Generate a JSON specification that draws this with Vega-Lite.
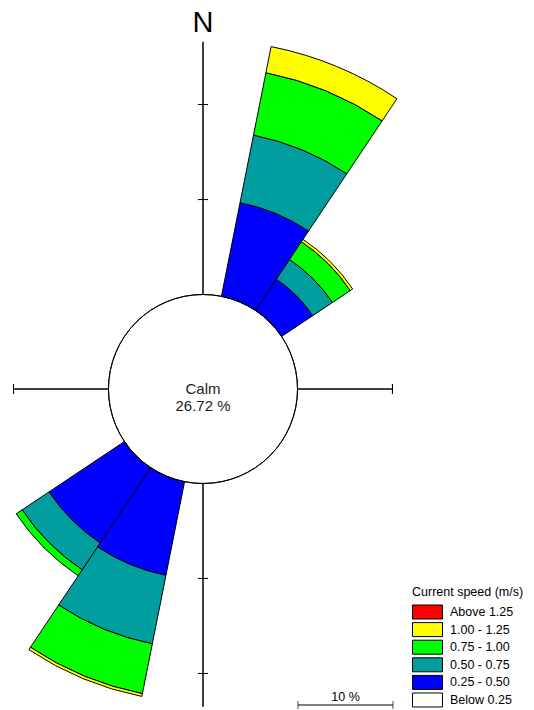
{
  "$schema": "https://vega.github.io/schema/vega-lite/v6.json",
  "width": 406,
  "height": 640,
  "autosize": "none",
  "padding": {"left": 0, "top": 69, "right": 128, "bottom": 0},
  "background": "white",
  "config": {"font": "Liberation Sans", "view": {"stroke": null}},
  "datasets": {
    "petals": [
      {"dir": "NNE", "from": 11.25, "to": 33.75, "lo": 0, "hi": 10.05, "speed": "0.25 - 0.50"},
      {"dir": "NNE", "from": 11.25, "to": 33.75, "lo": 10.05, "hi": 17.3, "speed": "0.50 - 0.75"},
      {"dir": "NNE", "from": 11.25, "to": 33.75, "lo": 17.3, "hi": 24.0, "speed": "0.75 - 1.00"},
      {"dir": "NNE", "from": 11.25, "to": 33.75, "lo": 24.0, "hi": 26.8, "speed": "1.00 - 1.25"},
      {"dir": "NE", "from": 33.75, "to": 56.25, "lo": 0, "hi": 3.95, "speed": "0.25 - 0.50"},
      {"dir": "NE", "from": 33.75, "to": 56.25, "lo": 3.95, "hi": 6.45, "speed": "0.50 - 0.75"},
      {"dir": "NE", "from": 33.75, "to": 56.25, "lo": 6.45, "hi": 8.7, "speed": "0.75 - 1.00"},
      {"dir": "NE", "from": 33.75, "to": 56.25, "lo": 8.7, "hi": 9.0, "speed": "1.00 - 1.25"},
      {"dir": "SSW", "from": 191.25, "to": 213.75, "lo": 0, "hi": 10.05, "speed": "0.25 - 0.50"},
      {"dir": "SSW", "from": 191.25, "to": 213.75, "lo": 10.05, "hi": 17.4, "speed": "0.50 - 0.75"},
      {"dir": "SSW", "from": 191.25, "to": 213.75, "lo": 17.4, "hi": 22.75, "speed": "0.75 - 1.00"},
      {"dir": "SSW", "from": 191.25, "to": 213.75, "lo": 22.75, "hi": 23.05, "speed": "1.00 - 1.25"},
      {"dir": "SW", "from": 213.75, "to": 236.25, "lo": 0, "hi": 9.55, "speed": "0.25 - 0.50"},
      {"dir": "SW", "from": 213.75, "to": 236.25, "lo": 9.55, "hi": 12.95, "speed": "0.50 - 0.75"},
      {"dir": "SW", "from": 213.75, "to": 236.25, "lo": 12.95, "hi": 13.7, "speed": "0.75 - 1.00"}
    ],
    "axes": [
      {"dir": 0, "len": 26.6},
      {"dir": 90, "len": 10},
      {"dir": 180, "len": 23.5},
      {"dir": 270, "len": 10}
    ],
    "ticks": [
      {"dir": 0, "r": 0}, {"dir": 90, "r": 0}, {"dir": 180, "r": 0}, {"dir": 270, "r": 0},
      {"dir": 0, "r": 10}, {"dir": 90, "r": 10}, {"dir": 180, "r": 10}, {"dir": 270, "r": 10}
    ],
    "ticks20": [
      {"dir": 0, "r": 20}, {"dir": 180, "r": 20}
    ],
    "calm": [{"label": "Calm\n26.72 %", "pct": 26.72}],
    "north": [{"label": "N"}],
    "scalebar": [{"from": 0, "to": 10, "label": "10 %"}]
  },
  "layer": [
    {
      "data": {"name": "petals"},
      "mark": {"type": "arc", "stroke": "black", "strokeWidth": 1},
      "encoding": {
        "theta": {"field": "from", "type": "quantitative", "stack": null, "scale": {"type": "linear", "zero": false, "nice": false, "domain": [0, 360], "range": [0, 6.283185307179586]}},
        "theta2": {"field": "to"},
        "radius": {"field": "hi", "type": "quantitative", "scale": {"type": "linear", "zero": false, "nice": false, "domain": [0, 30], "range": [94.5, 379.5]}},
        "radius2": {"field": "lo"},
        "color": {
          "field": "speed", "type": "nominal",
          "scale": {
            "domain": ["Above 1.25", "1.00 - 1.25", "0.75 - 1.00", "0.50 - 0.75", "0.25 - 0.50", "Below 0.25"],
            "range": ["#FF0000", "#FFFF00", "#00FF00", "#009E9E", "#0000FF", "#FFFFFF"]
          },
          "legend": {
            "orient": "none", "legendX": 412, "legendY": 517,
            "title": "Current speed (m/s)", "titleFontSize": 12.5, "titleFontWeight": "normal", "titleColor": "black",
            "labelFontSize": 12.5, "labelColor": "black",
            "labelExpr": "test(/^[0-9]/, datum.label) ? '\u2002' + datum.label : datum.label",
            "symbolType": "M-1,-1H3.286V1H-1Z", "symbolSize": 196,
            "symbolStrokeColor": "black", "symbolStrokeWidth": 1, "symbolOpacity": 1,
            "labelOffset": 23, "rowPadding": -1.4, "titlePadding": 6, "padding": 0
          }
        }
      }
    },
    {
      "data": {"name": "axes"},
      "mark": {"type": "arc", "filled": false, "stroke": "black", "strokeWidth": 1},
      "encoding": {
        "theta": {"field": "dir", "type": "quantitative", "stack": null, "scale": {"type": "linear", "zero": false, "nice": false, "domain": [0, 360], "range": [0, 6.283185307179586]}},
        "theta2": {"field": "dir"},
        "radius": {"field": "len", "type": "quantitative", "scale": {"type": "linear", "zero": false, "nice": false, "domain": [0, 30], "range": [94.5, 379.5]}},
        "radius2": {"datum": 0}
      }
    },
    {
      "data": {"name": "ticks"},
      "mark": {"type": "arc", "filled": false, "stroke": "black", "strokeWidth": 1, "thetaOffset": -0.0264, "theta2Offset": 0.0264},
      "encoding": {
        "theta": {"field": "dir", "type": "quantitative", "stack": null, "scale": {"type": "linear", "zero": false, "nice": false, "domain": [0, 360], "range": [0, 6.283185307179586]}},
        "theta2": {"field": "dir"},
        "radius": {"field": "r", "type": "quantitative", "scale": {"type": "linear", "zero": false, "nice": false, "domain": [0, 30], "range": [94.5, 379.5]}},
        "radius2": {"field": "r"}
      }
    },
    {
      "data": {"name": "ticks20"},
      "mark": {"type": "arc", "filled": false, "stroke": "black", "strokeWidth": 1, "thetaOffset": -0.0176, "theta2Offset": 0.0176},
      "encoding": {
        "theta": {"field": "dir", "type": "quantitative", "stack": null, "scale": {"type": "linear", "zero": false, "nice": false, "domain": [0, 360], "range": [0, 6.283185307179586]}},
        "theta2": {"field": "dir"},
        "radius": {"field": "r", "type": "quantitative", "scale": {"type": "linear", "zero": false, "nice": false, "domain": [0, 30], "range": [94.5, 379.5]}},
        "radius2": {"field": "r"}
      }
    },
    {
      "data": {"name": "calm"},
      "mark": {"type": "arc", "fill": "white", "stroke": "black", "strokeWidth": 1},
      "encoding": {
        "theta": {"datum": 0, "type": "quantitative", "scale": {"type": "linear", "zero": false, "nice": false, "domain": [0, 360], "range": [0, 6.283185307179586]}},
        "theta2": {"datum": 360},
        "radius": {"datum": 0, "type": "quantitative", "scale": {"type": "linear", "zero": false, "nice": false, "domain": [0, 30], "range": [94.5, 379.5]}}
      }
    },
    {
      "data": {"name": "calm"},
      "mark": {"type": "text", "fontSize": 15, "lineBreak": "\n", "lineHeight": 17, "baseline": "middle", "align": "center", "color": "#222222"},
      "encoding": {"text": {"field": "label"}}
    },
    {
      "data": {"name": "north"},
      "mark": {"type": "text", "fontSize": 29, "baseline": "middle", "align": "center", "color": "black"},
      "encoding": {
        "text": {"field": "label"},
        "theta": {"datum": 0, "type": "quantitative", "scale": {"type": "linear", "zero": false, "nice": false, "domain": [0, 360], "range": [0, 6.283185307179586]}},
        "radius": {"datum": 28.6, "type": "quantitative", "scale": {"type": "linear", "zero": false, "nice": false, "domain": [0, 30], "range": [94.5, 379.5]}}
      }
    },
    {
      "data": {"name": "scalebar"},
      "mark": {"type": "rule", "color": "black", "strokeWidth": 1},
      "encoding": {
        "x": {"field": "from", "type": "quantitative", "scale": {"domain": [0, 10], "range": [298, 393], "nice": false, "zero": false}, "axis": null},
        "x2": {"field": "to"},
        "y": {"datum": 0, "type": "quantitative", "scale": {"domain": [0, 1], "range": [636, 536], "nice": false, "zero": false}, "axis": null}
      }
    },
    {
      "data": {"name": "scalebar"},
      "mark": {"type": "tick", "orient": "vertical", "color": "black", "size": 8, "thickness": 1},
      "encoding": {
        "x": {"field": "from", "type": "quantitative", "scale": {"domain": [0, 10], "range": [298, 393], "nice": false, "zero": false}, "axis": null},
        "y": {"datum": 0, "type": "quantitative", "scale": {"domain": [0, 1], "range": [636, 536], "nice": false, "zero": false}, "axis": null}
      }
    },
    {
      "data": {"name": "scalebar"},
      "mark": {"type": "tick", "orient": "vertical", "color": "black", "size": 8, "thickness": 1},
      "encoding": {
        "x": {"field": "to", "type": "quantitative", "scale": {"domain": [0, 10], "range": [298, 393], "nice": false, "zero": false}, "axis": null},
        "y": {"datum": 0, "type": "quantitative", "scale": {"domain": [0, 1], "range": [636, 536], "nice": false, "zero": false}, "axis": null}
      }
    },
    {
      "data": {"name": "scalebar"},
      "mark": {"type": "text", "fontSize": 12.5, "baseline": "alphabetic", "align": "center", "dy": -4, "color": "black"},
      "encoding": {
        "text": {"field": "label"},
        "x": {"datum": 5, "type": "quantitative", "scale": {"domain": [0, 10], "range": [298, 393], "nice": false, "zero": false}, "axis": null},
        "y": {"datum": 0, "type": "quantitative", "scale": {"domain": [0, 1], "range": [636, 536], "nice": false, "zero": false}, "axis": null}
      }
    }
  ]
}
